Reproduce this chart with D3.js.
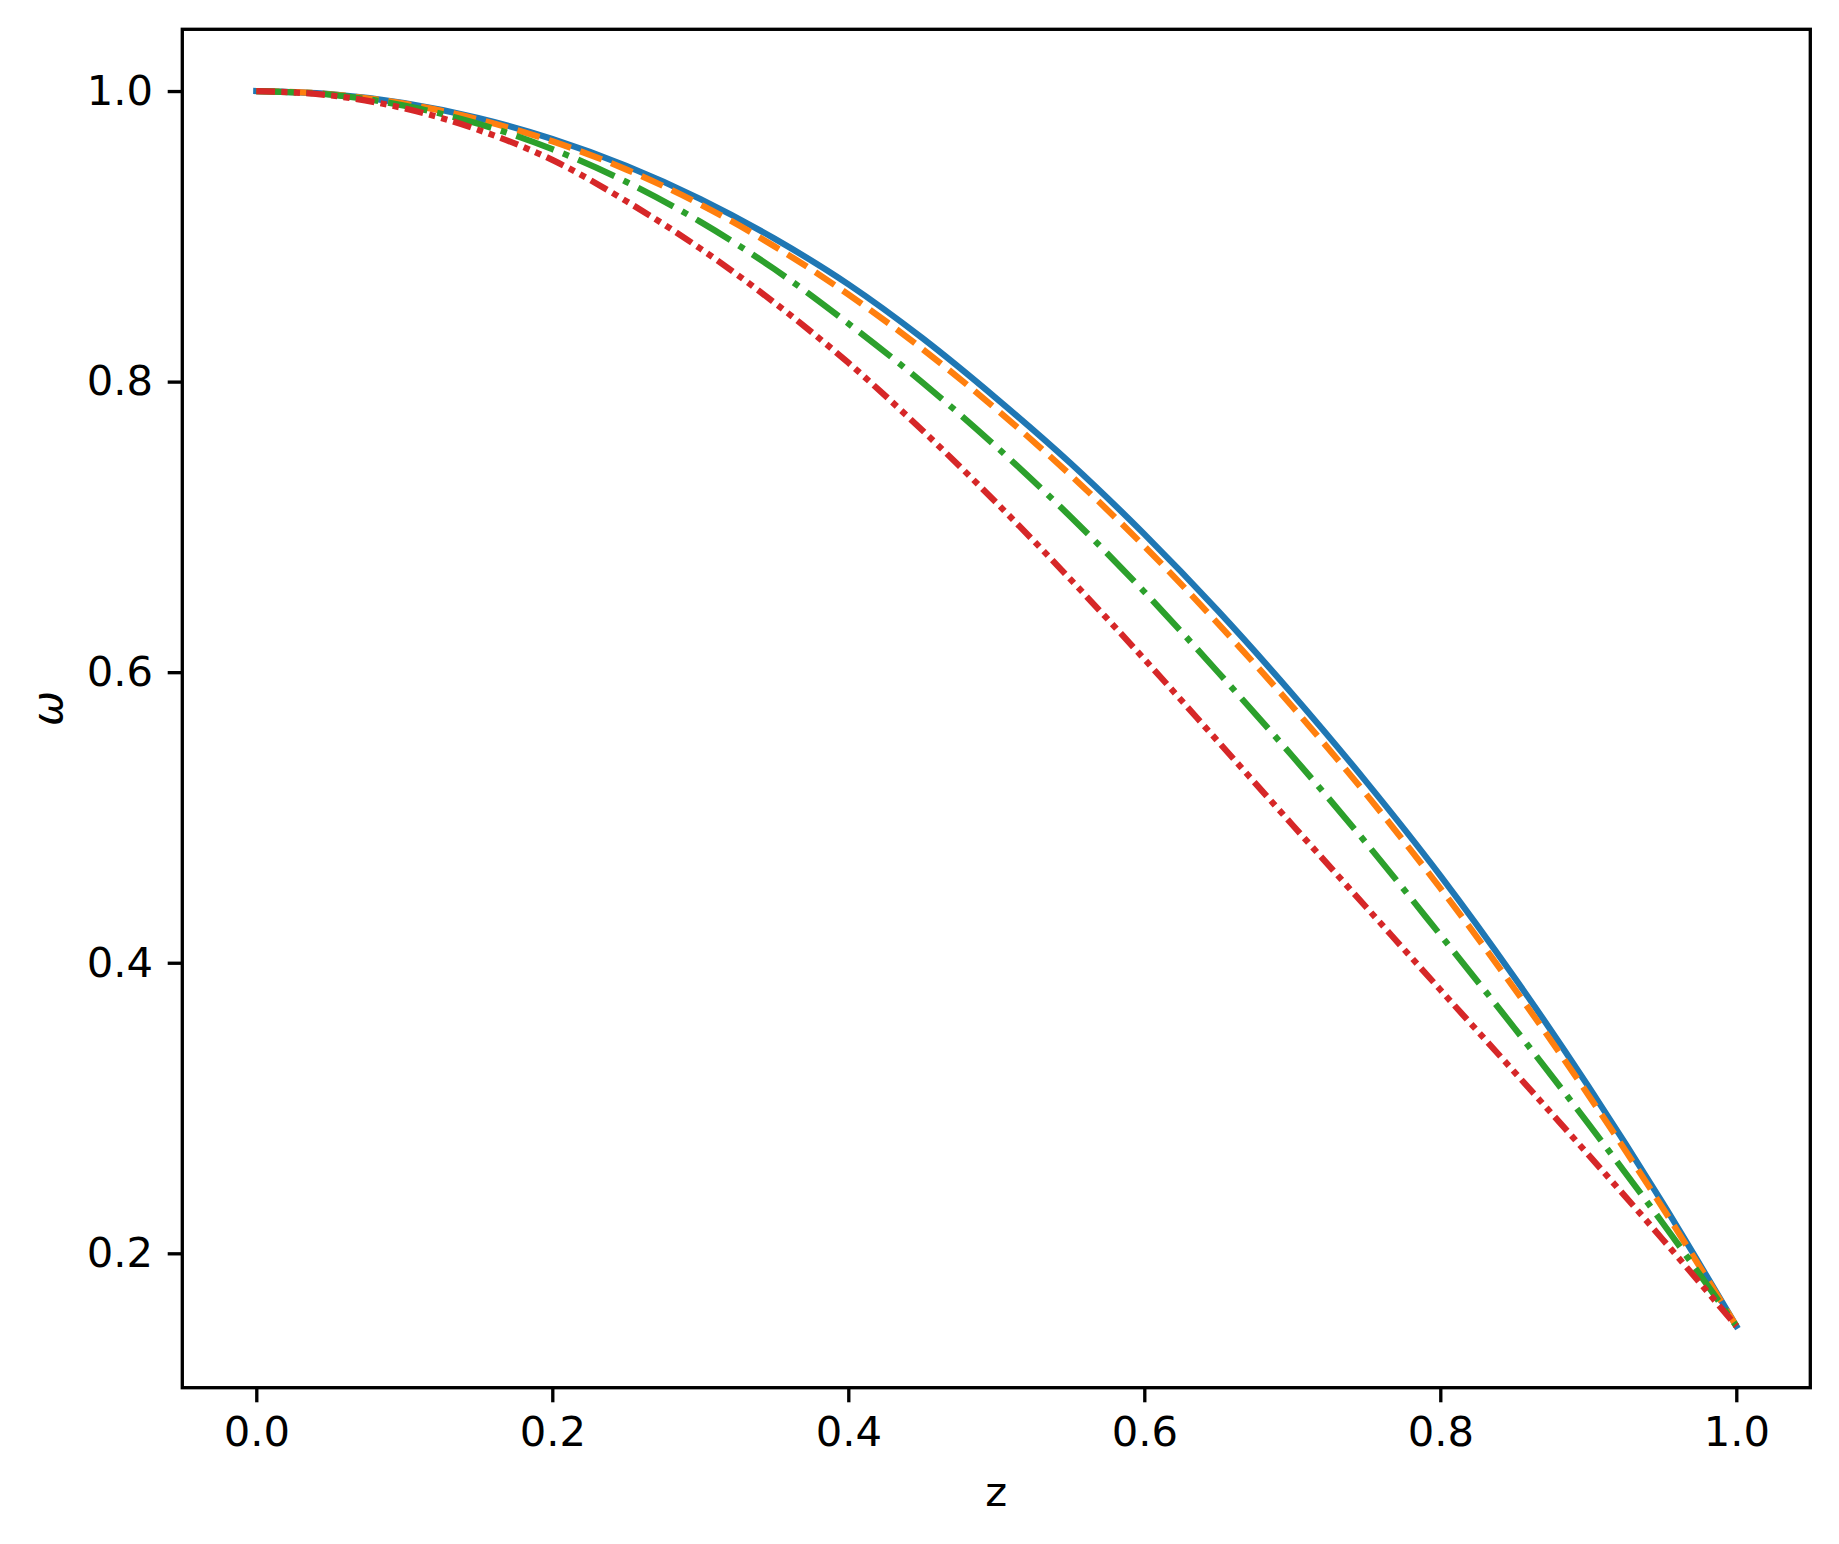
<!DOCTYPE html>
<html>
<head>
<meta charset="utf-8">
<script src="https://cdn.jsdelivr.net/npm/d3@7"></script>
<style>
  body { margin: 0; background: #fff; }
  .axis text { font-family: "DejaVu Sans", sans-serif; font-size: 41.7px; fill: #000; }
  .axis path, .axis line { stroke: #000; stroke-width: 3.33px; }
  .label { font-family: "DejaVu Sans", sans-serif; font-size: 41.7px; fill: #000; }
</style>
</head>
<body>
<div id="graph"></div>
<script>
/*******************************************************
 *                      DATA                           *
 ******************************************************/
var zValues = [0, 0.05, 0.1, 0.15, 0.2, 0.25, 0.3, 0.35, 0.4, 0.45, 0.5,
               0.55, 0.6, 0.65, 0.7, 0.75, 0.8, 0.85, 0.9, 0.95, 1.0];

var omegaSolid   = [1, 0.9979, 0.9917, 0.9814, 0.967, 0.9485, 0.9257, 0.8985, 0.867, 0.830, 0.7885,
                    0.744, 0.695, 0.642, 0.585, 0.5245, 0.460, 0.390, 0.315, 0.235, 0.15];
var omegaDashed  = [1, 0.9978, 0.9913, 0.9805, 0.9654, 0.946, 0.922, 0.8932, 0.860, 0.8225, 0.781,
                    0.7358, 0.6867, 0.6332, 0.5764, 0.5159, 0.4513, 0.3823, 0.309, 0.2317, 0.15];
var omegaDashDot = [1, 0.9975, 0.990, 0.9775, 0.960, 0.9375, 0.910, 0.8775, 0.840, 0.7995, 0.7552,
                    0.7072, 0.6553, 0.5998, 0.5423, 0.4823, 0.4192, 0.3552, 0.2892, 0.2212, 0.15];
var omegaDashDotDot = [1, 0.997, 0.9881, 0.9733, 0.9526, 0.9242, 0.8916, 0.8544, 0.813, 0.7665, 0.7167,
                    0.664, 0.609, 0.5521, 0.495, 0.4382, 0.3814, 0.3249, 0.2679, 0.2099, 0.15];

var xTicks = [0.0, 0.2, 0.4, 0.6, 0.8, 1.0];
var yTicks = [0.2, 0.4, 0.6, 0.8, 1.0];

/*******************************************************
 *                   BUILD GRAPH                       *
 ******************************************************/
var lw = 6.25; // 1.5pt at 300 dpi

var series = [
  { values: omegaSolid,      color: "#1f77b4", dash: null },
  { values: omegaDashed,     color: "#ff7f0e", dash: [3.7, 1.6] },
  { values: omegaDashDot,    color: "#2ca02c", dash: [6.4, 1.6, 1, 1.6] },
  { values: omegaDashDotDot, color: "#d62728", dash: [3, 1, 1, 1, 1, 1] }
];

var margin = {left: 182.3, top: 29.3, right: 1839 - 1810.3, bottom: 1544 - 1387.7},
    width  = 1839 - margin.left - margin.right,
    height = 1544 - margin.top - margin.bottom;

var x = d3.scaleLinear()
          .domain([-0.05, 1.05])
          .range([0, width]);

var y = d3.scaleLinear()
          .domain([0.1075, 1.0425])
          .range([height, 0]);

var line = d3.line()
             .curve(d3.curveMonotoneX)
             .x(function(d) { return x(d[0]); })
             .y(function(d) { return y(d[1]); });

var svg = d3.select("#graph").append("svg")
            .attr("width", 1839)
            .attr("height", 1544)
            .append("g")
            .attr("transform", "translate(" + margin.left + "," + margin.top + ")");

// curves
series.forEach(function(s) {
  var pts = zValues.map(function(z, i) { return [z, s.values[i]]; });
  svg.append("path")
     .datum(pts)
     .attr("fill", "none")
     .attr("stroke", s.color)
     .attr("stroke-width", lw)
     .attr("stroke-linecap", s.dash ? "butt" : "square")
     .attr("stroke-linejoin", "round")
     .attr("stroke-dasharray", s.dash ? s.dash.map(function(v) { return v * lw; }).join(" ") : null)
     .attr("d", line);
});

// axes
svg.append("g")
   .attr("class", "axis")
   .attr("transform", "translate(0," + height + ")")
   .call(d3.axisBottom(x)
           .tickValues(xTicks)
           .tickFormat(d3.format(".1f"))
           .tickSize(14.6)
           .tickPadding(14.6)
           .tickSizeOuter(0));

svg.append("g")
   .attr("class", "axis")
   .call(d3.axisLeft(y)
           .tickValues(yTicks)
           .tickFormat(d3.format(".1f"))
           .tickSize(14.6)
           .tickPadding(14.6)
           .tickSizeOuter(0));

// frame
svg.append("rect")
   .attr("width", width)
   .attr("height", height)
   .attr("fill", "none")
   .attr("stroke", "#000")
   .attr("stroke-width", 3.33);

svg.selectAll(".axis .domain").remove();

// labels
svg.append("text")
   .attr("class", "label")
   .attr("x", width / 2)
   .attr("y", 1506 - margin.top)
   .attr("text-anchor", "middle")
   .text("z");

svg.append("text")
   .attr("class", "label")
   .attr("transform", "translate(" + (62 - margin.left) + "," + (height / 2) + ") rotate(-90)")
   .attr("text-anchor", "middle")
   .style("font-style", "italic")
   .text("ω");
</script>
</body>
</html>
